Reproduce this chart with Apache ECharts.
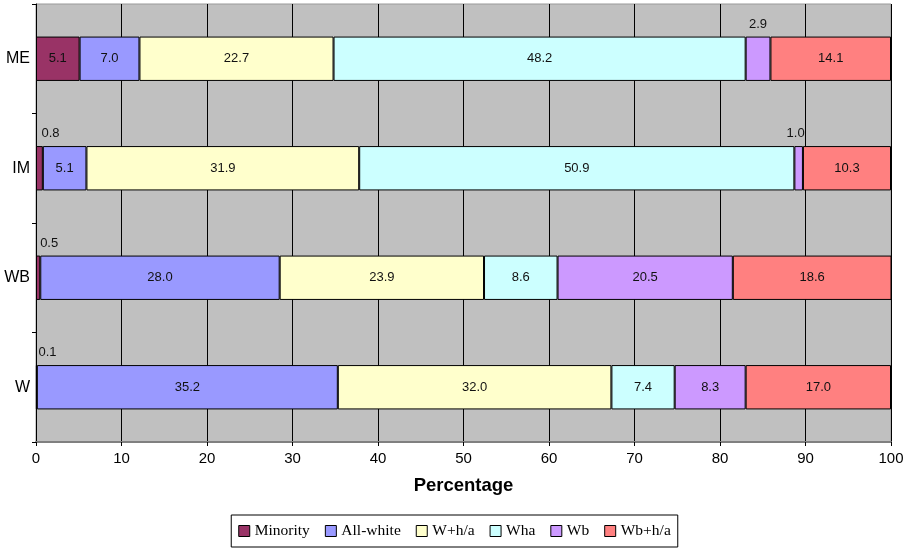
<!DOCTYPE html>
<html>
<head>
<meta charset="utf-8">
<script src="https://cdn.jsdelivr.net/npm/echarts@6/dist/echarts.min.js"></script>
<style>
  html, body { margin: 0; padding: 0; background: #fff; }
  #chart { width: 909px; height: 550px; }
</style>
</head>
<body>
<div id="chart"></div>
<script>
// Household groups, bottom to top
const categories = ['W', 'WB', 'IM', 'ME'];

// Share of each group (percent), listed in category order
const minority = [0.1, 0.5, 0.8, 5.1];
const allWhite = [35.2, 28.0, 5.1, 7.0];
const wPlusHA  = [32.0, 23.9, 31.9, 22.7];
const wha      = [7.4, 8.6, 50.9, 48.2];
const wb       = [8.3, 20.5, 1.0, 2.9];
const wbPlusHA = [17.0, 18.6, 10.3, 14.1];

const seriesNames = ['Minority', 'All-white', 'W+h/a', 'Wha', 'Wb', 'Wb+h/a'];
const seriesColors = ['#993366', '#9999ff', '#ffffcc', '#ccffff', '#cc99ff', '#ff8080'];
const seriesValues = [minority, allWhite, wPlusHA, wha, wb, wbPlusHA];

const xTicks = [0, 10, 20, 30, 40, 50, 60, 70, 80, 90, 100];

// Segments too narrow for an inside label get their label above the bar
function makeData(values) {
  return values.map(function (v) {
    if (v >= 4) return v;
    const lbl = { position: 'top', distance: 6 };
    if (v < 0.9) { lbl.align = 'left'; lbl.offset = [2, 0]; }
    else if (v < 1.5) { lbl.offset = [-3, 0]; }
    return { value: v, label: lbl };
  });
}

const chart = echarts.init(document.getElementById('chart'), null, { renderer: 'canvas' });

const series = seriesNames.map(function (name, i) {
  return {
    name: name,
    type: 'bar',
    stack: 'total',
    barWidth: '40.5%',
    data: makeData(seriesValues[i]),
    itemStyle: { color: seriesColors[i], borderColor: '#000', borderWidth: 1 },
    label: {
      show: true,
      position: 'inside',
      color: '#111',
      fontSize: 13,
      fontFamily: 'Liberation Sans, Arial, sans-serif',
      formatter: function (p) { return Number(p.value).toFixed(1); }
    },
    emphasis: { disabled: true },
    animation: false
  };
});

chart.setOption({
  animation: false,
  backgroundColor: '#fff',
  textStyle: { fontFamily: 'Liberation Sans, Arial, sans-serif' },
  grid: {
    left: 36, right: 18, top: 4, bottom: 108,
    show: true, backgroundColor: '#c0c0c0', borderColor: '#999', borderWidth: 1
  },
  legend: {
    data: seriesNames,
    bottom: 3,
    left: 'center',
    padding: [8, 7, 8, 7],
    itemGap: 15,
    itemWidth: 11,
    itemHeight: 11,
    icon: 'rect',
    borderColor: '#000',
    borderWidth: 1,
    itemStyle: { borderColor: '#000', borderWidth: 1 },
    textStyle: { fontFamily: 'Liberation Serif, Times New Roman, serif', fontSize: 15.5, color: '#000' }
  },
  xAxis: {
    type: 'value',
    min: xTicks[0],
    max: xTicks[xTicks.length - 1],
    interval: 10,
    name: 'Percentage',
    nameLocation: 'middle',
    nameGap: 34,
    nameTextStyle: { fontSize: 18.5, fontWeight: 'bold', color: '#000' },
    axisLine: { show: true, lineStyle: { color: '#808080', width: 2 } },
    axisTick: { show: true, length: 4, lineStyle: { color: '#000' } },
    axisLabel: { fontSize: 15, color: '#000', margin: 9 },
    splitLine: { show: true, lineStyle: { color: '#000', width: 1 } }
  },
  yAxis: {
    type: 'category',
    data: categories,
    axisLine: { show: true, lineStyle: { color: '#000', width: 1 } },
    axisTick: { show: true, length: 4, lineStyle: { color: '#000' } },
    axisLabel: { fontSize: 16, color: '#000', margin: 6 },
    splitLine: { show: false }
  },
  series: series
});
</script>
</body>
</html>
